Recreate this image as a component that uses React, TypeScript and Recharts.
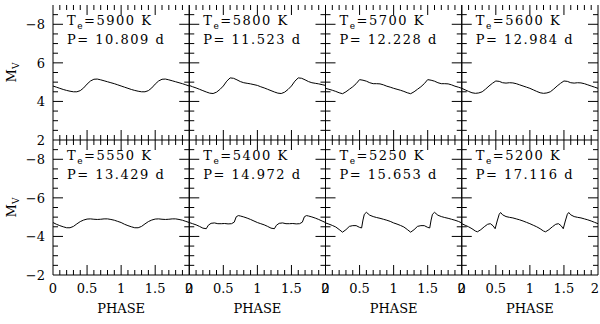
import React from 'react';
import { LineChart, Line, XAxis, YAxis } from 'recharts';

// ---- data ----
const temperatures = [5900, 5800, 5700, 5600, 5550, 5400, 5250, 5200];
const periods = ['10.809', '11.523', '12.228', '12.984', '13.429', '14.972', '15.653', '17.116'];

const phaseGrid = [0, 0.05, 0.1, 0.15, 0.2, 0.25, 0.3, 0.35, 0.4, 0.45, 0.5, 0.55, 0.6, 0.65, 0.7, 0.75, 0.8, 0.85, 0.9, 0.95, 1];

const mags1 = [-4.80, -4.74, -4.68, -4.62, -4.57, -4.53, -4.50, -4.50, -4.56, -4.70, -4.90, -5.06, -5.15, -5.16, -5.12, -5.07, -5.02, -4.97, -4.92, -4.86, -4.80];
const mags2 = [-4.83, -4.76, -4.70, -4.63, -4.56, -4.49, -4.43, -4.41, -4.48, -4.62, -4.80, -5.05, -5.22, -5.20, -5.12, -5.03, -4.97, -4.94, -4.91, -4.87, -4.83];
const mags3 = [-4.68, -4.63, -4.58, -4.52, -4.45, -4.40, -4.50, -4.63, -4.76, -4.92, -5.13, -5.10, -5.05, -4.97, -4.92, -4.92, -4.91, -4.86, -4.79, -4.74, -4.68];
const mags4 = [-4.68, -4.60, -4.52, -4.45, -4.42, -4.44, -4.50, -4.64, -4.80, -4.94, -5.06, -5.04, -4.97, -4.95, -4.97, -4.96, -4.92, -4.86, -4.80, -4.74, -4.68];
const mags5 = [-4.72, -4.63, -4.56, -4.50, -4.45, -4.45, -4.52, -4.65, -4.77, -4.85, -4.90, -4.91, -4.89, -4.88, -4.89, -4.91, -4.91, -4.88, -4.84, -4.78, -4.72];

const phases6 = [0, 0.05, 0.1, 0.15, 0.2, 0.25, 0.28, 0.32, 0.37, 0.42, 0.47, 0.52, 0.57, 0.62, 0.66, 0.69, 0.72, 0.75, 0.8, 0.85, 0.9, 0.95, 1];
const mags6 = [-4.72, -4.66, -4.60, -4.52, -4.43, -4.40, -4.58, -4.68, -4.70, -4.66, -4.66, -4.67, -4.65, -4.66, -4.74, -5.02, -5.08, -5.06, -5.01, -4.95, -4.88, -4.80, -4.72];

const phases7 = [0, 0.05, 0.1, 0.15, 0.2, 0.25, 0.3, 0.35, 0.4, 0.45, 0.5, 0.53, 0.55, 0.57, 0.6, 0.65, 0.7, 0.75, 0.8, 0.85, 0.9, 0.95, 1];
const mags7 = [-4.70, -4.64, -4.57, -4.49, -4.36, -4.22, -4.35, -4.52, -4.56, -4.56, -4.47, -4.44, -4.85, -5.15, -5.25, -5.10, -5.03, -4.98, -4.94, -4.89, -4.84, -4.78, -4.70];

const phases8 = [0, 0.05, 0.1, 0.15, 0.2, 0.23, 0.28, 0.33, 0.38, 0.42, 0.46, 0.49, 0.52, 0.55, 0.57, 0.6, 0.65, 0.7, 0.75, 0.8, 0.85, 0.9, 0.95, 1];
const mags8 = [-4.66, -4.58, -4.50, -4.40, -4.28, -4.24, -4.35, -4.50, -4.63, -4.66, -4.55, -4.40, -4.80, -5.15, -5.24, -5.12, -5.03, -4.99, -4.96, -4.91, -4.86, -4.80, -4.73, -4.66];

const panelPhases = [phaseGrid, phaseGrid, phaseGrid, phaseGrid, phaseGrid, phases6, phases7, phases8];
const panelMags = [mags1, mags2, mags3, mags4, mags5, mags6, mags7, mags8];

const xTicks = [0, 0.1, 0.2, 0.3, 0.4, 0.5, 0.6, 0.7, 0.8, 0.9, 1, 1.1, 1.2, 1.3, 1.4, 1.5, 1.6, 1.7, 1.8, 1.9, 2];
const xTickLabels: Record<string, string> = { '0': '0', '0.5': '0.5', '1': '1', '1.5': '1.5', '2': '2' };
const yTicks = [-9, -8.5, -8, -7.5, -7, -6.5, -6, -5.5, -5, -4.5, -4, -3.5, -3, -2.5, -2];
const topRowYLabels: Record<string, string> = { '-8': '\u22128', '-6': '6', '-4': '4', '-2': '2' };
const bottomRowYLabels: Record<string, string> = { '-8': '\u22128', '-6': '\u22126', '-4': '\u22124', '-2': '\u22122' };

// ---- layout ----
const W = 600;
const H = 324;
const COLS = [53, 189.25, 325.5, 461.75, 598];
const ROWS = [5, 140, 275];
const FONT = "'DejaVu Serif', serif";
const txtStyle: React.CSSProperties = { fontFamily: FONT, fontSize: 13 };

function buildTable(phases: number[], mags: number[]) {
  const rows: { phase: number; m: number }[] = [];
  phases.forEach((p, i) => rows.push({ phase: p, m: mags[i] }));
  phases.forEach((p, i) => {
    if (i > 0) rows.push({ phase: +(p + 1).toFixed(3), m: mags[i] });
  });
  return rows;
}

const isHalf = (v: number) => Math.abs(v * 2 - Math.round(v * 2)) < 1e-6;
const isEven = (v: number) => Math.abs(v / 2 - Math.round(v / 2)) < 1e-6;

function xTick(side: 'top' | 'bottom', showLabel: boolean, lastCol: boolean) {
  return (props: any) => {
    const { x, y, payload } = props;
    const v = payload.value as number;
    const major = isHalf(v);
    const len = major ? 10 : 5;
    const dir = side === 'bottom' ? -1 : 1;
    const edge = v === 0 || v === 2;
    const lbl = xTickLabels[String(v)];
    const lx = lastCol && v === 2 ? x - 3 : x;
    return (
      <g>
        {!edge && <line x1={x} y1={y} x2={x} y2={y + dir * len} stroke="#000" strokeWidth={1} />}
        {showLabel && lbl !== undefined && (
          <text x={lx} y={y + 18} textAnchor="middle" style={txtStyle} fill="#000">
            {lbl}
          </text>
        )}
      </g>
    );
  };
}

function yTick(side: 'left' | 'right', labels: Record<string, string> | null) {
  return (props: any) => {
    const { x, y, payload } = props;
    const v = payload.value as number;
    const major = isEven(v);
    const len = major ? 10 : 5;
    const dir = side === 'left' ? 1 : -1;
    const edge = v === -9 || v === -2;
    const lbl = labels ? labels[String(v)] : undefined;
    return (
      <g>
        {!edge && <line x1={x} y1={y} x2={x + dir * len} y2={y} stroke="#000" strokeWidth={1} />}
        {lbl !== undefined && (
          <text x={x - 8} y={y + 5} textAnchor="end" style={txtStyle} fill="#000">
            {lbl}
          </text>
        )}
      </g>
    );
  };
}

function Panel({ index }: { index: number }) {
  const c = index % 4;
  const r = Math.floor(index / 4);
  const data = buildTable(panelPhases[index], panelMags[index]);
  const margin = {
    top: ROWS[r] - 1,
    bottom: H - ROWS[r + 1] - 1,
    left: COLS[c] - 1,
    right: W - COLS[c + 1] - 1,
  };
  const tx = COLS[c] + 14;
  const ty = ROWS[r];
  const yLabels = c === 0 ? (r === 0 ? topRowYLabels : bottomRowYLabels) : null;
  const cx = (COLS[c] + COLS[c + 1]) / 2;
  const cy = (ROWS[r] + ROWS[r + 1]) / 2;
  return (
    <div style={{ position: 'absolute', left: 0, top: 0 }}>
      <LineChart width={W} height={H} data={data} margin={margin}>
        <XAxis
          xAxisId="b"
          type="number"
          dataKey="phase"
          domain={[0, 2]}
          ticks={xTicks}
          interval={0}
          height={1}
          tickSize={0}
          tickMargin={0}
          tickLine={false}
          axisLine={{ stroke: '#000', strokeWidth: 1 }}
          tick={xTick('bottom', r === 1, c === 3)}
          allowDataOverflow
        />
        <XAxis
          xAxisId="t"
          orientation="top"
          type="number"
          dataKey="phase"
          domain={[0, 2]}
          ticks={xTicks}
          interval={0}
          height={1}
          tickSize={0}
          tickMargin={0}
          tickLine={false}
          axisLine={false}
          tick={xTick('top', false, false)}
          allowDataOverflow
        />
        <YAxis
          yAxisId="l"
          type="number"
          domain={[-9, -2]}
          reversed
          ticks={yTicks}
          interval={0}
          width={1}
          tickSize={0}
          tickMargin={0}
          tickLine={false}
          axisLine={{ stroke: '#000', strokeWidth: 1 }}
          tick={yTick('left', yLabels)}
          allowDataOverflow
        />
        <YAxis
          yAxisId="r"
          orientation="right"
          type="number"
          domain={[-9, -2]}
          reversed
          ticks={yTicks}
          interval={0}
          width={1}
          tickSize={0}
          tickMargin={0}
          tickLine={false}
          axisLine={{ stroke: '#000', strokeWidth: 1 }}
          tick={yTick('right', null)}
          allowDataOverflow
        />
        <Line
          xAxisId="b"
          yAxisId="l"
          type="linear"
          dataKey="m"
          stroke="#000"
          strokeWidth={1}
          dot={false}
          isAnimationActive={false}
        />
        <text x={tx} y={ty + 20} style={{ ...txtStyle, letterSpacing: 1.5 }} fill="#000">
          T<tspan dy={4} style={{ fontSize: 9 }}>e</tspan>
          <tspan dy={-4}>={temperatures[index]} K</tspan>
        </text>
        <text x={tx} y={ty + 39} style={{ ...txtStyle, letterSpacing: 1.5 }} fill="#000">
          P= {periods[index]} d
        </text>
        {r === 1 && (
          <text x={cx} y={313} textAnchor="middle" style={txtStyle} fill="#000">
            PHASE
          </text>
        )}
        {c === 0 && (
          <text
            x={16}
            y={cy}
            transform={`rotate(-90, 16, ${cy})`}
            textAnchor="middle"
            style={txtStyle}
            fill="#000"
          >
            M<tspan dy={3} style={{ fontSize: 9 }}>V</tspan>
          </text>
        )}
      </LineChart>
    </div>
  );
}

export default function App() {
  return (
    <div style={{ position: 'absolute', left: 0, top: 0, width: W, height: H, background: '#fff' }}>
      {temperatures.map((_, i) => (
        <Panel key={i} index={i} />
      ))}
    </div>
  );
}
